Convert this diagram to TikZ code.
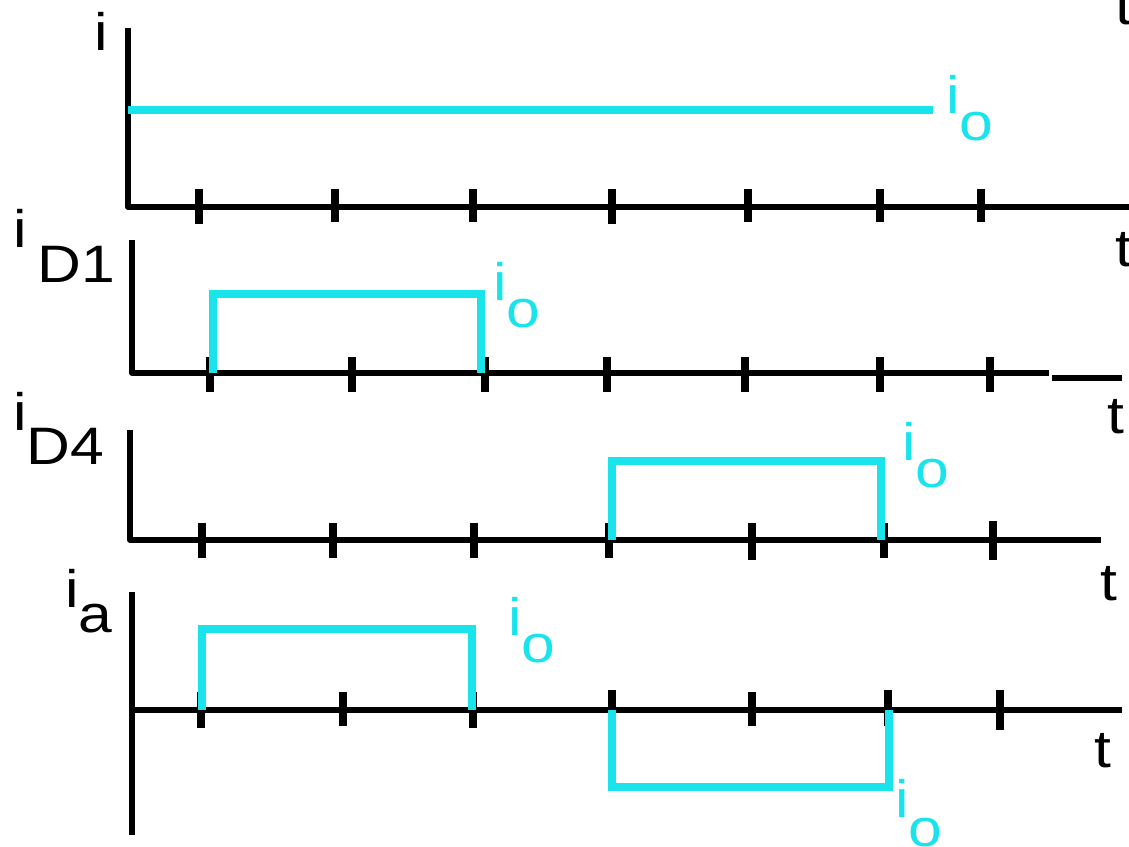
\documentclass[tikz,border=0pt]{standalone}
\usepackage{fontspec}
\setmainfont[FakeStretch=1.15]{Liberation Sans}
\usepackage{tikz}

\definecolor{pulse}{RGB}{25,228,236}
\newcommand{\isub}[2]{i\raisebox{-#2}{#1}}

\tikzset{
    axis/.style={line width=3.4pt, line join=round},
    tickmark/.style={line width=4pt},
    wave/.style={draw=pulse, line width=4.2pt, line join=miter},
    cur/.style={text=pulse}
}

\begin{document}
\begin{tikzpicture}[x=0.02cm, y=-0.02cm, every node/.style={inner sep=0pt, anchor=base west, font=\fontsize{30}{32}\selectfont}]
    \useasboundingbox (0,0) rectangle (1129,846);

    % panel i
    \draw[axis] (128,28) -- (128,207) -- (1129,207);
    \draw[tickmark] (199,189) -- (199,224) (335,189) -- (335,222) (473,189) -- (473,222)
        (612,189) -- (612,224) (748,189) -- (748,222) (880,189) -- (880,222) (981,189) -- (981,222);
    \draw[wave] (128,110) -- (933,110);
    \node (ilbl) at (94,50) {i};
    \node[cur] (io1) at (946,113) {\isub{o}{15.5pt}};
    \node (t0) at (1115,24) {t};
    \node (t1) at (1115,266) {t};

    % panel iD1
    \draw[axis] (132,240) -- (132,373) -- (1049,373);
    \draw[axis] (1052,378) -- (1122,378);
    \draw[tickmark] (210,357) -- (210,392) (352,357) -- (352,392) (485,357) -- (485,392)
        (607,357) -- (607,392) (745,357) -- (745,392) (880,357) -- (880,392) (990,357) -- (990,392);
    \draw[wave] (213,373) -- (213,294) -- (481,294) -- (481,373);
    \node (d1lbl) at (13,247) {i\kern6pt\raisebox{-20.4pt}{D1}};
    \node[cur] (io2) at (493,300) {\isub{o}{15.5pt}};
    \node (t2) at (1107,433) {t};

    % panel iD4
    \draw[axis] (130,430) -- (130,540) -- (1101,540);
    \draw[tickmark] (202,523) -- (202,558) (333,523) -- (333,558) (474,523) -- (474,558)
        (609,523) -- (609,558) (752,523) -- (752,560) (884,523) -- (884,558) (993,521) -- (993,560);
    \draw[wave] (612,540) -- (612,461) -- (881,461) -- (881,540);
    \node (d4lbl) at (13,430) {\isub{D4}{19.8pt}};
    \node[cur] (io3) at (902,460) {\isub{o}{15.5pt}};
    \node (t3) at (1100,600) {t};

    % panel ia
    \draw[axis] (132,592) -- (132,835);
    \draw[axis, line width=3pt] (132,710) -- (1122,710);
    \draw[tickmark] (201,692) -- (201,728) (343,692) -- (343,726) (473,692) -- (473,728)
        (612,690) -- (612,726) (752,692) -- (752,726) (888,690) -- (888,726) (1000,690) -- (1000,730);
    \draw[wave] (202,710) -- (202,629) -- (472,629) -- (472,710);
    \draw[wave] (612,710) -- (612,787) -- (889,787) -- (889,710);
    \node (alvl) at (65,607) {\isub{a}{14.7pt}};
    \node[cur] (io4) at (508,635) {\isub{o}{15.5pt}};
    \node[cur] (io5) at (895,817) {\isub{o}{16.5pt}};
    \node (t4) at (1094,767) {t};
\end{tikzpicture}
\end{document}
